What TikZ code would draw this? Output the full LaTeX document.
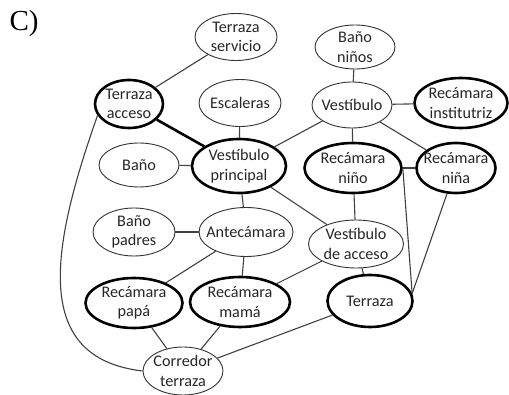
\documentclass[tikz,border=0pt]{standalone}
\usepackage{fontspec}
\setmainfont{Carlito}
\newfontfamily\labelfont{Liberation Serif}
\usetikzlibrary{shapes.geometric}

\tikzset{
    room/.style={ellipse, draw=black!80, line width=0.9pt, inner sep=-12pt,
        align=center, font=\fontsize{16.2}{19.5}\selectfont, text=black!85},
    main/.style={room, draw=black, line width=2.6pt},
    link/.style={black!75, line width=1.1pt},
    mainlink/.style={black, line width=2.6pt}
}

\begin{document}
\begin{tikzpicture}[x=1pt, y=-1pt]
    \useasboundingbox (0, 0) rectangle (509, 395);

    \node [font=\labelfont\fontsize{29}{32}\selectfont, inner sep=0pt] (lbl) at (24, 24) {C)};

    % upper left group
    \node [room, minimum width=82, minimum height=47] (tser) at (236, 37) {Terraza\\servicio};
    \node [main, minimum width=68, minimum height=48] (tacc) at (129, 104) {Terraza\\acceso};
    \node [room, minimum width=82, minimum height=47] (esc) at (240, 103) {Escaleras};
    \node [room, minimum width=80, minimum height=44] (bano) at (139, 165) {Baño};
    \node [main, minimum width=94, minimum height=54] (vpri) at (239, 166) {Vestíbulo\\principal};

    % upper right group
    \node [room, minimum width=80, minimum height=44] (bnin) at (355, 47) {Baño\\niños};
    \node [room, minimum width=80, minimum height=46] (vest) at (352, 105) {Vestíbulo};
    \node [main, minimum width=93, minimum height=50] (rins) at (461, 103) {Recámara\\institutriz};
    \node [main, minimum width=97, minimum height=50] (rnio) at (353, 168) {Recámara\\niño};
    \node [main, minimum width=79, minimum height=50] (rnia) at (456, 168) {Recámara\\niña};

    % lower group
    \node [room, minimum width=82, minimum height=48] (bpad) at (134, 232) {Baño\\padres};
    \node [room, minimum width=94, minimum height=49] (ante) at (246, 232) {Antecámara};
    \node [room, minimum width=95, minimum height=48] (vacc) at (356, 244) {Vestíbulo\\de acceso};
    \node [main, minimum width=97, minimum height=50] (rpap) at (134, 303) {Recámara\\papá};
    \node [main, minimum width=100, minimum height=50] (rmam) at (240, 302) {Recámara\\mamá};
    \node [main, minimum width=85, minimum height=52] (terr) at (370, 301) {Terraza};
    \node [room, minimum width=80, minimum height=48] (corr) at (183, 371) {Corredor\\terraza};

    % connections
    \draw [link] (tser) -- (tacc);
    \draw [mainlink] (tacc) -- (vpri);
    \draw [link] (esc) -- (vpri);
    \draw [link] (bano) -- (vpri);
    \draw [link] (vpri) -- (vest);
    \draw [link] (vpri) -- (ante);
    \draw [link] (vpri) -- (vacc);
    \draw [link] (bnin) -- (vest);
    \draw [link] (vest) -- (rins);
    \draw [link] (vest) -- (rnio);
    \draw [link] (vest) -- (rnia);
    \draw [link] (rnio) -- (rnia);
    \draw [link] (rnio) -- (vacc);
    \draw [link] (rnio.east) -- (terr.10);
    \draw [link] (rnia) -- (terr.10);
    \draw [link] (vacc) -- (terr);
    \draw [link] (vacc) -- (rmam);
    \draw [link] (bpad) -- (ante);
    \draw [link] (ante) -- (rpap);
    \draw [link] (ante) -- (rmam);
    \draw [link] (rpap) -- (corr);
    \draw [link] (rmam) -- (corr);
    \draw [link] (terr) -- (corr);
    \draw [link] (tacc.200) .. controls (50, 250) and (32, 358) .. (corr.west);
\end{tikzpicture}
\end{document}
